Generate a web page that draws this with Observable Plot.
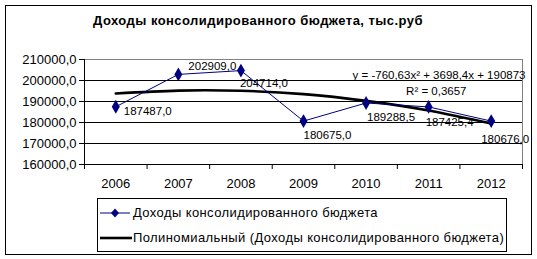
<!DOCTYPE html>
<html><head><meta charset="utf-8">
<script src="https://cdn.jsdelivr.net/npm/d3@7"></script>
<script src="https://cdn.jsdelivr.net/npm/@observablehq/plot@0.6"></script>
<style>
body{margin:0;background:#fff;font-family:"Liberation Sans",Arial,sans-serif;}
#wrap{position:relative;width:537px;height:259px;overflow:hidden;}
#frame{position:absolute;left:5px;top:5px;width:525px;height:248px;border:1px solid #000;box-sizing:content-box;pointer-events:none;}
#title{position:absolute;left:0;width:516px;top:13px;text-align:center;font-weight:bold;font-size:13px;letter-spacing:0.45px;}
#legend{position:absolute;left:97px;top:198px;width:408px;height:52px;border:1px solid #000;font-size:13px;letter-spacing:0.4px;}
.row{position:absolute;left:0;height:16px;white-space:nowrap;}
.row svg{position:absolute;left:2px;top:0;}
.row span{position:absolute;left:35px;top:0;line-height:16px;}
#chart{position:absolute;left:0;top:0;}
</style></head>
<body>
<div id="wrap">
  <div id="chart"></div>
  <div id="title"></div>
  <div id="legend"></div>
  <div id="frame"></div>
</div>
<script>
const titleText = "Доходы консолидированного бюджета, тыс.руб";
const years = [2006, 2007, 2008, 2009, 2010, 2011, 2012];
const income = [187487.0, 202909.0, 204714.0, 180675.0, 189288.5, 187425.4, 180676.0];
const trend = [193800, 195200, 195100, 193500, 190300, 185700, 179500];
const yTicks = [160000, 170000, 180000, 190000, 200000, 210000];
const seriesName = "Доходы консолидированного бюджета";
const trendName = "Полиномиальный (Доходы консолидированного бюджета)";
const equation = "y = -760,63x² + 3698,4x + 190873";
const r2 = "R² = 0,3657";

const fmt = v => d3.format(".1f")(v).replace(".", ",");
const data = years.map((y, i) => ({year: y, value: income[i], trend: trend[i], i}));
const offs = [[8,5],[10,-8],[-1,13],[0,14],[1,14],[-3,15],[-10,18]];
const bounds = d3.range(years.length + 1).map(k => years[0] - 0.5 + k);

const chart = Plot.plot({
  width: 537, height: 259,
  marginLeft: 84, marginRight: 15, marginTop: 59, marginBottom: 95,
  style: {fontFamily: "Liberation Sans, Arial, sans-serif", background: "transparent"},
  x: {domain: [years[0] - 0.5, years[years.length - 1] + 0.5]},
  y: {domain: [160000, 210000]},
  marks: [
    Plot.ruleY(yTicks.slice(1, -1), {stroke: "#000", strokeWidth: 1}),
    Plot.frame({stroke: "#808080"}),
    Plot.ruleX([years[0] - 0.5], {stroke: "#000"}),
    Plot.ruleY([160000], {stroke: "#000"}),
    Plot.axisY({ticks: yTicks, tickFormat: fmt, tickSize: 5, tickPadding: 3, fontSize: 13, stroke: "#000", color: "#000", label: null, style: {letterSpacing: "0.7px"}}),
    Plot.axisX({ticks: bounds, tickFormat: () => "", tickSize: 5, label: null, stroke: "#000"}),
    Plot.axisX({ticks: years, tickFormat: d => String(d), tickSize: 0, tickPadding: 14, fontSize: 13, label: null, color: "#000"}),
    Plot.line(data, {x: "year", y: "trend", curve: "natural", stroke: "#000", strokeWidth: 2.6}),
    Plot.line(data, {x: "year", y: "value", stroke: "#000080", strokeWidth: 1}),
    Plot.dot(data, {x: "year", y: "value", symbol: "diamond", r: 4.2, fill: "#000080", stroke: "none"}),
    ...data.map(d => Plot.text([d], {x: "year", y: "value", text: v => fmt(v.value), textAnchor: "start", dx: offs[d.i][0], dy: offs[d.i][1], fontSize: 11.5, fill: "#000"})),
    Plot.text([equation], {frameAnchor: "top-right", dx: 3, dy: 11, fontSize: 11.5, fill: "#000", textAnchor: "end"}),
    Plot.text([r2], {frameAnchor: "top-right", dx: -56, dy: 27, fontSize: 11.5, fill: "#000", textAnchor: "end"})
  ]
});
document.getElementById("chart").appendChild(chart);
document.getElementById("title").textContent = titleText;

const leg = document.getElementById("legend");
leg.innerHTML = `
<div class="row" style="top:6px"><svg width="32" height="16"><line x1="0" y1="8" x2="30" y2="8" stroke="#000080" stroke-width="1"/><path d="M15,3.5 L19,8 L15,12.5 L11,8 Z" fill="#000080"/></svg><span></span></div>
<div class="row" style="top:31px"><svg width="32" height="16"><line x1="0" y1="8" x2="32" y2="8" stroke="#000" stroke-width="2.6"/></svg><span></span></div>`;
const spans = leg.querySelectorAll("span");
spans[0].textContent = seriesName;
spans[1].textContent = trendName;
</script>
</body></html>
